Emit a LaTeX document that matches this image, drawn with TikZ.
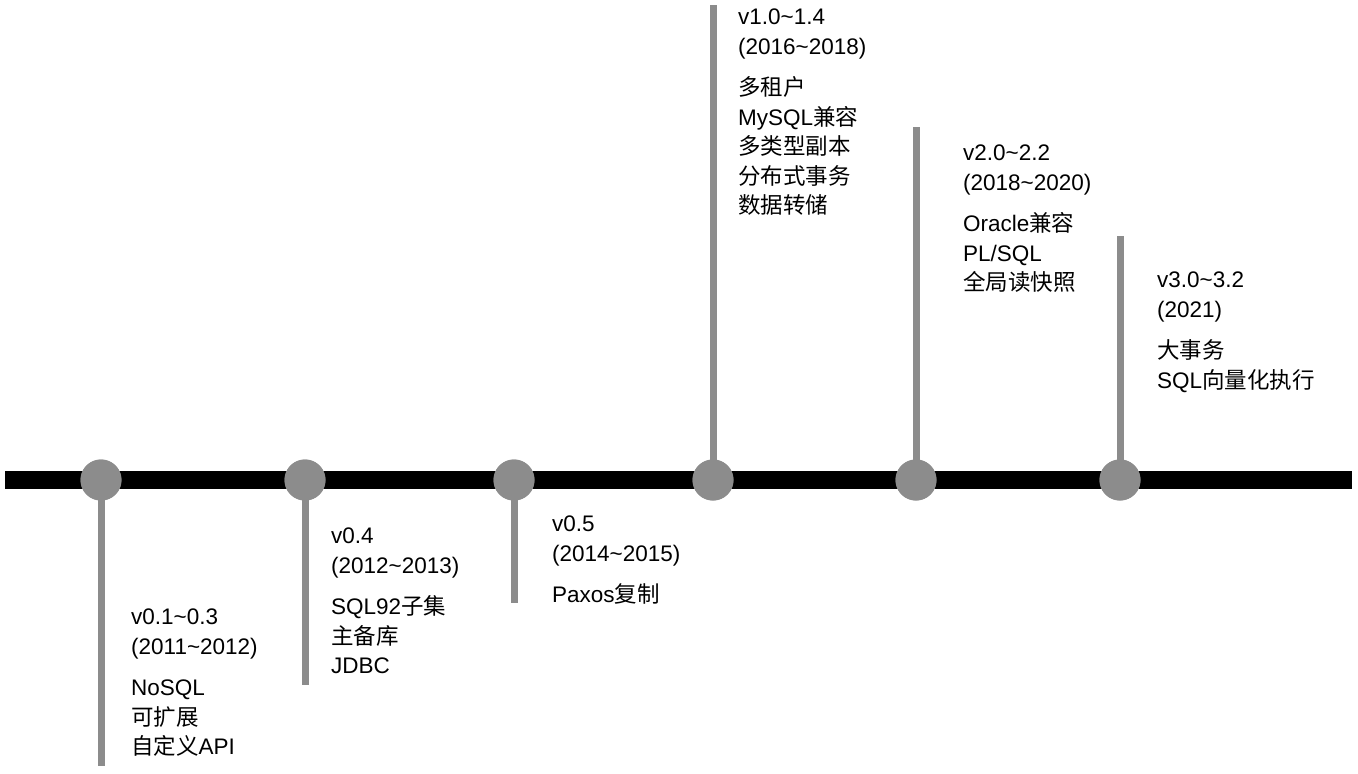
\documentclass[tikz,border=0pt]{standalone}
\usepackage{fontspec}
\setmainfont{Liberation Sans}
\newfontfamily\cjk{Noto Sans CJK SC}
\begin{document}
\begin{tikzpicture}[x=1pt,y=-1pt,
  stem/.style={draw=gray!90,line width=7pt},
  dot/.style={circle,fill=gray!90,minimum size=41pt,inner sep=0pt},
  lbl/.style={anchor=north west,align=left,inner sep=0pt,font=\fontsize{22.5}{29.5}\selectfont}]
\useasboundingbox[fill=white] (0,0) rectangle (1358,774);
\draw[line width=18pt] (5,480) -- (1352,480);
\foreach \n/\x/\e in {a/101/766,b/305/685,c/514/603,d/713/5,e/916/127,f/1120/236}{
  \coordinate (\n e) at (\x,\e);
  \node[dot] (\n) at (\x,480) {};
  \draw[stem] (\n.center) -- (\n e);
  \node[dot] at (\x,480) {};
}
\node[lbl] (ta) at (131,609) {v0.1\textasciitilde0.3\\(2011\textasciitilde2012)\\[12pt]NoSQL\\\cjk 可扩展\\\cjk 自定义\rmfamily API};
\node[lbl] (tb) at (331,528) {v0.4\\(2012\textasciitilde2013)\\[12pt]SQL92\cjk 子集\\\cjk 主备库\\JDBC};
\node[lbl] (tc) at (552,516) {v0.5\\(2014\textasciitilde2015)\\[12pt]Paxos\cjk 复制};
\node[lbl] (td) at (738,9) {v1.0\textasciitilde1.4\\(2016\textasciitilde2018)\\[12pt]\cjk 多租户\\MySQL\cjk 兼容\\\cjk 多类型副本\\\cjk 分布式事务\\\cjk 数据转储};
\node[lbl] (te) at (963,145) {v2.0\textasciitilde2.2\\(2018\textasciitilde2020)\\[12pt]Oracle\cjk 兼容\\PL/SQL\\\cjk 全局读快照};
\node[lbl] (tf) at (1157,272) {v3.0\textasciitilde3.2\\(2021)\\[12pt]\cjk 大事务\\SQL\cjk 向量化执行};
\end{tikzpicture}
\end{document}
